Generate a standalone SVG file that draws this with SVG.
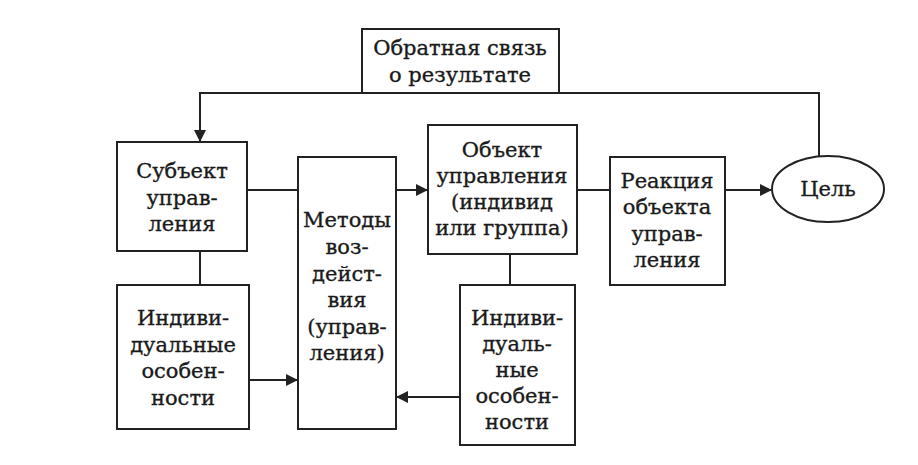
<svg xmlns="http://www.w3.org/2000/svg" width="918" height="465" viewBox="0 0 918 465">
<defs>
<style>
.box{fill:#fff;stroke:#222;stroke-width:2}
.ln{fill:none;stroke:#222;stroke-width:2}
text{font-family:"DejaVu Serif","Liberation Serif",serif;font-size:21px;fill:#1a1a1a;stroke:#1a1a1a;stroke-width:0.35;text-anchor:middle}
</style>
<marker id="ah" markerWidth="12" markerHeight="12" refX="11" refY="6" orient="auto" markerUnits="userSpaceOnUse">
<path d="M0,0 L12,6 L0,12 Z" fill="#222"/>
</marker>
</defs>
<rect width="918" height="465" fill="#fff"/>
<g id="connectors">
<path class="ln" d="M362,93 H200 V141" marker-end="url(#ah)"/>
<path class="ln" d="M559,93 H819 V157"/>
<path class="ln" d="M247,190 H298"/>
<path class="ln" d="M396,190 H427" marker-end="url(#ah)"/>
<path class="ln" d="M577,190 H610"/>
<path class="ln" d="M725,190 H771" marker-end="url(#ah)"/>
<path class="ln" d="M200,251 V285"/>
<path class="ln" d="M510,254 V285"/>
<path class="ln" d="M249,380 H297" marker-end="url(#ah)"/>
<path class="ln" d="M460,397 H397" marker-end="url(#ah)"/>
</g>
<g id="feedback">
<rect class="box" x="362" y="29" width="197" height="64"/>
<text x="460" y="55">Обратная связь</text>
<text x="460" y="82">о результате</text>
</g>
<g id="subject">
<rect class="box" x="117" y="142" width="130" height="109"/>
<text x="182" y="178">Субъект</text>
<text x="182" y="205">управ-</text>
<text x="182" y="231">ления</text>
</g>
<g id="indiv-left">
<rect class="box" x="117" y="285" width="132" height="144"/>
<text x="183" y="325">Индиви-</text>
<text x="183" y="352">дуальные</text>
<text x="183" y="378">особен-</text>
<text x="183" y="405">ности</text>
</g>
<g id="methods">
<rect class="box" x="298" y="157" width="98" height="272"/>
<text x="347" y="227">Методы</text>
<text x="347" y="254">воз-</text>
<text x="347" y="281">дейст-</text>
<text x="347" y="307">вия</text>
<text x="347" y="334">(управ-</text>
<text x="347" y="360">ления)</text>
</g>
<g id="object">
<rect class="box" x="428" y="125" width="149" height="129"/>
<text x="502" y="157">Объект</text>
<text x="502" y="183">управления</text>
<text x="502" y="209">(индивид</text>
<text x="502" y="235">или группа)</text>
</g>
<g id="indiv-right">
<rect class="box" x="460" y="285" width="115" height="160"/>
<text x="517" y="325">Индиви-</text>
<text x="517" y="351">дуаль-</text>
<text x="517" y="377">ные</text>
<text x="517" y="403">особен-</text>
<text x="517" y="429">ности</text>
</g>
<g id="reaction">
<rect class="box" x="610" y="157" width="115" height="128"/>
<text x="667" y="188">Реакция</text>
<text x="667" y="214">объекта</text>
<text x="667" y="241">управ-</text>
<text x="667" y="267">ления</text>
</g>
<g id="goal">
<ellipse class="box" cx="828" cy="189" rx="56" ry="33"/>
<text x="828" y="196">Цель</text>
</g>
</svg>
